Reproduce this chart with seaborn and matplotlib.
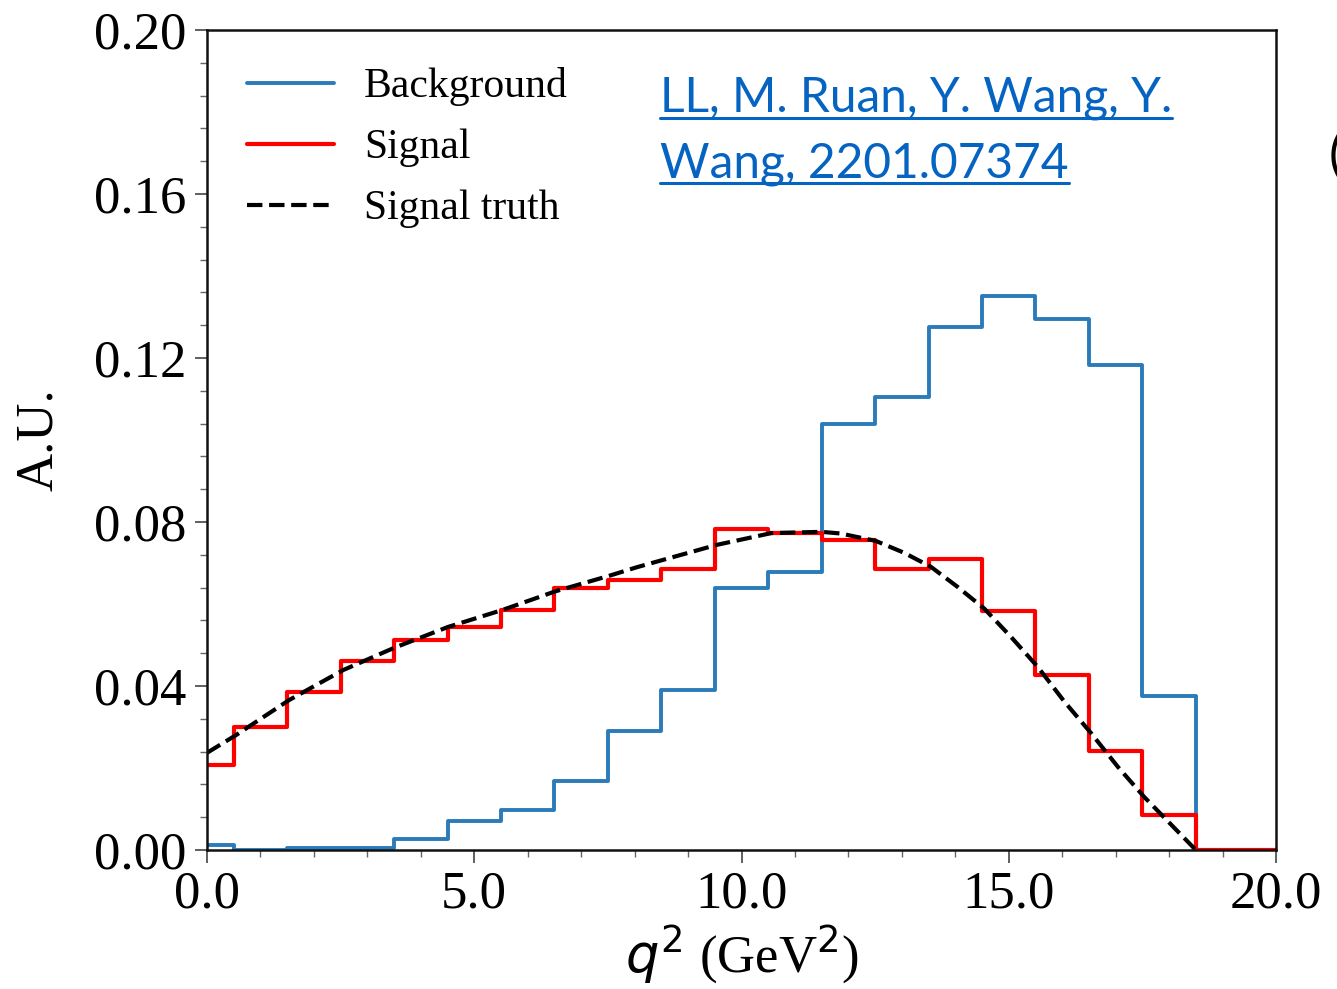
import numpy as np
import pandas as pd
import seaborn as sns
import matplotlib
matplotlib.use("Agg")
import matplotlib.pyplot as plt
from matplotlib.lines import Line2D

# ---- data ----
bin_centers = [0, 1, 2, 3, 4, 5, 6, 7, 8, 9, 10, 11, 12, 13, 14, 15, 16, 17, 18, 19, 20]
bin_edges = [-0.5, 0.5, 1.5, 2.5, 3.5, 4.5, 5.5, 6.5, 7.5, 8.5, 9.5, 10.5, 11.5,
             12.5, 13.5, 14.5, 15.5, 16.5, 17.5, 18.5, 19.5, 20.5]
background = [0.0012, 0.0, 0.0004, 0.0004, 0.0027, 0.0071, 0.0098, 0.0169, 0.0290,
              0.0390, 0.0640, 0.0679, 0.1039, 0.1104, 0.1276, 0.1352, 0.1294,
              0.1183, 0.0375, 0.0, 0.0]
signal = [0.0207, 0.0299, 0.0386, 0.0461, 0.0511, 0.0544, 0.0585, 0.0638, 0.0659,
          0.0685, 0.0782, 0.0773, 0.0756, 0.0685, 0.0709, 0.0584, 0.0427, 0.0242,
          0.0085, 0.0, 0.0]
truth_x = [0.0, 0.54, 1.54, 2.55, 3.5, 4.51, 5.54, 6.52, 7.53, 8.05, 9.53, 10.56,
           11.5, 11.85, 12.51, 13.04, 13.54, 14.04, 14.54, 15.04, 15.54, 16.04,
           16.54, 17.04, 17.53, 18.5]
truth_y = [0.0237, 0.0280, 0.0366, 0.0439, 0.0493, 0.0544, 0.0586, 0.0631, 0.0669,
           0.0690, 0.0744, 0.0773, 0.0776, 0.0772, 0.0754, 0.0725, 0.0691, 0.0642,
           0.0589, 0.0520, 0.0447, 0.0362, 0.0285, 0.0203, 0.0130, 0.0]
x_ticks = [0, 5, 10, 15, 20]
x_tick_labels = ["0.0", "5.0", "10.0", "15.0", "20.0"]
y_ticks = [0.00, 0.04, 0.08, 0.12, 0.16, 0.20]
y_tick_labels = ["0.00", "0.04", "0.08", "0.12", "0.16", "0.20"]

sns.set_style("ticks")
plt.rcParams["font.family"] = ["Liberation Serif", "DejaVu Serif"]
plt.rcParams["mathtext.fontset"] = "dejavusans"
plt.rcParams["text.color"] = "black"
plt.rcParams["axes.labelcolor"] = "black"
plt.rcParams["xtick.color"] = "black"
plt.rcParams["ytick.color"] = "black"

W, H = 1337, 989
fig = plt.figure(figsize=(W / 100, H / 100), dpi=100)
ax = fig.add_axes([207 / W, 1 - 850 / H, (1276 - 207) / W, (850 - 30) / H])

blue = "#2b7bba"
red = "#ff0000"

sns.histplot(x=bin_centers, weights=background, bins=bin_edges, element="step",
             fill=False, color=blue, linewidth=2.8, ax=ax, label="Background")
sns.histplot(x=bin_centers, weights=signal, bins=bin_edges, element="step",
             fill=False, color=red, linewidth=3.0, ax=ax, label="Signal")
sns.lineplot(x=truth_x, y=truth_y, color="black", linestyle="--", linewidth=3.0,
             ax=ax, label="Signal truth")

ax.set_xlim(0, 20)
ax.set_ylim(0, 0.20)
ax.set_xticks(x_ticks)
ax.set_xticklabels(x_tick_labels)
ax.set_yticks(y_ticks)
ax.set_yticklabels(y_tick_labels)
ax.set_xticks(np.arange(0, 21, 1), minor=True)
ax.set_yticks(np.arange(0, 0.2001, 0.008), minor=True)
ax.tick_params(axis="both", which="major", direction="out", length=9, width=1.2,
               labelsize=38, pad=6, color="#444444", labelcolor="black")
ax.tick_params(axis="both", which="minor", direction="out", length=5, width=1.0,
               color="#666666")
for s in ax.spines.values():
    s.set_linewidth(1.8)
    s.set_color("#111111")

ax.set_xlabel(r"$q^2$ (GeV$^2$)", fontsize=38, labelpad=2, color="black")
ax.set_ylabel("A.U.", fontsize=38, labelpad=22, color="black")

leg = ax.legend(loc="upper left", bbox_to_anchor=(0.0, 1.003), frameon=False,
                fontsize=30, handlelength=2.1, handletextpad=0.72,
                labelspacing=0.54, borderaxespad=0.55)
for txt in leg.get_texts():
    txt.set_color("black")

# hyperlink-style annotation
link_color = "#0563C1"
t1 = fig.text(660 / W, 1 - 112 / H, "LL, M. Ruan, Y. Wang, Y.", fontsize=34.5,
              family=["Lato", "DejaVu Sans"], color=link_color, va="baseline", ha="left")
t2 = fig.text(660 / W, 1 - 177 / H, "Wang, 2201.07374", fontsize=34.5,
              family=["Lato", "DejaVu Sans"], color=link_color, va="baseline", ha="left")
fig.text(1329 / W, 1 - 172 / H, "(", fontsize=38, family=["Lato", "DejaVu Sans"],
         color="black", va="baseline", ha="left")

fig.canvas.draw()
r = fig.canvas.get_renderer()
for t, uy in [(t1, 118), (t2, 183)]:
    bb = t.get_window_extent(r)
    fig.add_artist(Line2D([bb.x0 / W, bb.x1 / W], [1 - uy / H, 1 - uy / H],
                          transform=fig.transFigure, color=link_color, linewidth=2.2))

fig.savefig("out.png", dpi=100)
